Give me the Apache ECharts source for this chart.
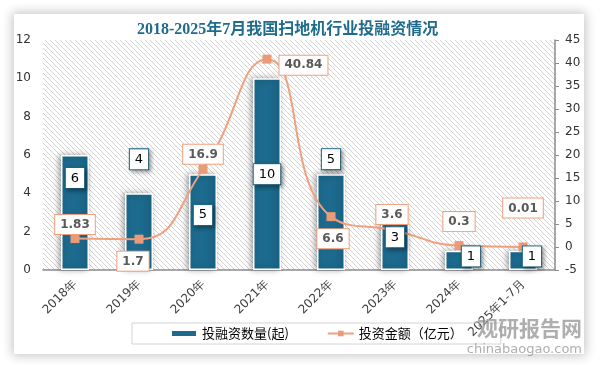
<!DOCTYPE html>
<html>
<head>
<meta charset="utf-8">
<script src="https://cdn.jsdelivr.net/npm/echarts@6/dist/echarts.min.js"></script>
<style>
html,body{margin:0;padding:0;background:#fff;}
#card{position:absolute;left:14px;top:14px;width:570px;height:340px;background:#fff;box-shadow:0 0 10px 2px rgba(0,0,0,0.22);}
#main{position:absolute;left:0;top:0;width:600px;height:365px;}
</style>
</head>
<body>
<div id="card"></div>
<div id="main"></div>
<script>
var categories = ['2018年','2019年','2020年','2021年','2022年','2023年','2024年','2025年1-7月'];
var counts = [6, 4, 5, 10, 5, 3, 1, 1];
var amounts = [1.83, 1.7, 16.9, 40.84, 6.6, 3.6, 0.3, 0.01];
var leftTicks = {min: 0, max: 12, interval: 2};
var rightTicks = {min: -5, max: 45, interval: 5};

// label placement styles (presentation only)
var barLabelPos = [
  {position: 'insideTop', offset: [0, 8]},
  {position: 'top', distance: 24},
  {position: 'inside', offset: [0, -7]},
  {position: 'inside', offset: [0, 0]},
  {position: 'top', distance: 5},
  {position: 'inside', offset: [0, -4]},
  {position: 'inside', offset: [12, -4]},
  {position: 'inside', offset: [9, -4]}
];
var lineLabelPos = [
  {position: 'top', distance: 0},
  {position: 'bottom', distance: 8, offset: [-6, 0]},
  {position: 'top', distance: 1},
  {position: 'right', distance: 8, offset: [0, 6]},
  {position: 'bottom', distance: 8, offset: [2, 0]},
  {position: 'top', distance: 2, offset: [-3, 0]},
  {position: 'top', distance: 10},
  {position: 'top', distance: 25}
];

// hatch pattern
var pc = document.createElement('canvas');
var s = 5;
pc.width = s; pc.height = s;
var ctx = pc.getContext('2d');
ctx.fillStyle = '#ffffff';
ctx.fillRect(0, 0, s, s);
ctx.strokeStyle = '#d3d3d3';
ctx.lineWidth = 1;
ctx.beginPath();
ctx.moveTo(-1, -1); ctx.lineTo(s + 1, s + 1);
ctx.moveTo(-1, s - 1); ctx.lineTo(1, s + 1);
ctx.moveTo(s - 1, -1); ctx.lineTo(s + 1, 1);
ctx.stroke();

var barColor = '#1c6a8e';
var lineColor = '#f0a07e';

var chart = echarts.init(document.getElementById('main'), null, {renderer: 'canvas'});
chart.setOption({
  backgroundColor: 'transparent',
  animation: false,
  title: {
    text: '2018-2025年7月我国扫地机行业投融资情况',
    left: 132, top: 17,
    textStyle: {color: '#1f6b8e', fontSize: 16, fontWeight: 'bold', fontFamily: '"Liberation Serif", "Noto Sans CJK SC", serif'}
  },
  grid: {
    left: 43, right: 45, top: 40, bottom: 95,
    show: true, borderWidth: 0,
    backgroundColor: {image: pc, repeat: 'repeat'}
  },
  legend: {
    left: 132, top: 323,
    padding: [4, 38, 4, 38],
    borderColor: '#d4d4d4', borderWidth: 1,
    itemGap: 38, itemWidth: 26, itemHeight: 7,
    textStyle: {fontSize: 13, color: '#000', fontFamily: '"Noto Sans CJK SC", sans-serif'},
    data: [
      {name: '投融资数量(起)', icon: 'rect'},
      {name: '投资金额（亿元）'}
    ]
  },
  xAxis: {
    type: 'category',
    data: categories,
    axisLine: {lineStyle: {color: '#8c8c8c', width: 1.5}},
    axisTick: {show: false},
    axisLabel: {interval: 0, rotate: 45, margin: 12, fontSize: 12, color: '#404040', fontFamily: '"DejaVu Sans", sans-serif'}
  },
  yAxis: [
    {
      type: 'value', min: leftTicks.min, max: leftTicks.max, interval: leftTicks.interval,
      splitLine: {show: false}, axisLine: {show: false}, axisTick: {show: false},
      axisLabel: {margin: 12, fontSize: 12, color: '#333', fontFamily: '"DejaVu Sans", sans-serif'}
    },
    {
      type: 'value', min: rightTicks.min, max: rightTicks.max, interval: rightTicks.interval,
      splitLine: {show: false},
      axisLine: {show: true, lineStyle: {color: '#8c8c8c', width: 1.5}},
      axisTick: {show: true, length: 4, lineStyle: {color: '#8c8c8c'}},
      axisLabel: {margin: 10, fontSize: 12, color: '#333', fontFamily: '"DejaVu Sans", sans-serif'}
    }
  ],
  series: [
    {
      name: '投融资数量(起)',
      type: 'bar',
      barWidth: 28,
      yAxisIndex: 0,
      itemStyle: {color: barColor, borderColor: '#fff', borderWidth: 1.5, shadowColor: 'rgba(0,0,0,0.35)', shadowBlur: 6, shadowOffsetX: -2, shadowOffsetY: 0},
      label: {show: false},
      data: counts,
      z: 2
    },
    {
      name: '投资金额（亿元）',
      type: 'line',
      yAxisIndex: 1,
      smooth: 0.5,
      symbol: 'rect', symbolSize: 9,
      lineStyle: {color: lineColor, width: 2},
      itemStyle: {color: '#e99a79'},
      label: {
        show: true, color: '#595959', fontSize: 12, fontWeight: 'bold', fontFamily: '"DejaVu Sans", sans-serif',
        backgroundColor: '#fff', borderColor: lineColor, borderWidth: 1,
        padding: [4, 5, 3, 5]
      },
      data: amounts.map(function (v, i) {
        return {value: v, label: lineLabelPos[i]};
      }),
      z: 3
    },
    {
      name: 'barLabels',
      type: 'bar',
      barWidth: 28,
      barGap: '-100%',
      yAxisIndex: 0,
      silent: true,
      itemStyle: {color: 'rgba(0,0,0,0)'},
      label: {
        show: true, color: '#000', fontSize: 13, fontFamily: '"DejaVu Sans", sans-serif',
        backgroundColor: '#fff', borderColor: barColor, borderWidth: 1,
        padding: [4, 5, 3, 5],
        shadowColor: 'rgba(0,0,0,0.35)', shadowBlur: 4, shadowOffsetX: 2, shadowOffsetY: 2
      },
      data: counts.map(function (v, i) {
        return {value: v, label: barLabelPos[i]};
      }),
      z: 4
    }
  ],
  graphic: [
    {type: 'text', right: 18, top: 318, z: 10,
     style: {text: '观研报告网', fill: 'rgba(140,140,140,0.7)', font: 'bold 21px "Noto Sans CJK SC", sans-serif'}},
    {type: 'text', right: 18, top: 343, z: 10,
     style: {text: 'chinabaogao.com', fill: 'rgba(140,140,140,0.7)', font: '13px "DejaVu Sans", sans-serif'}}
  ]
});
</script>
</body>
</html>
